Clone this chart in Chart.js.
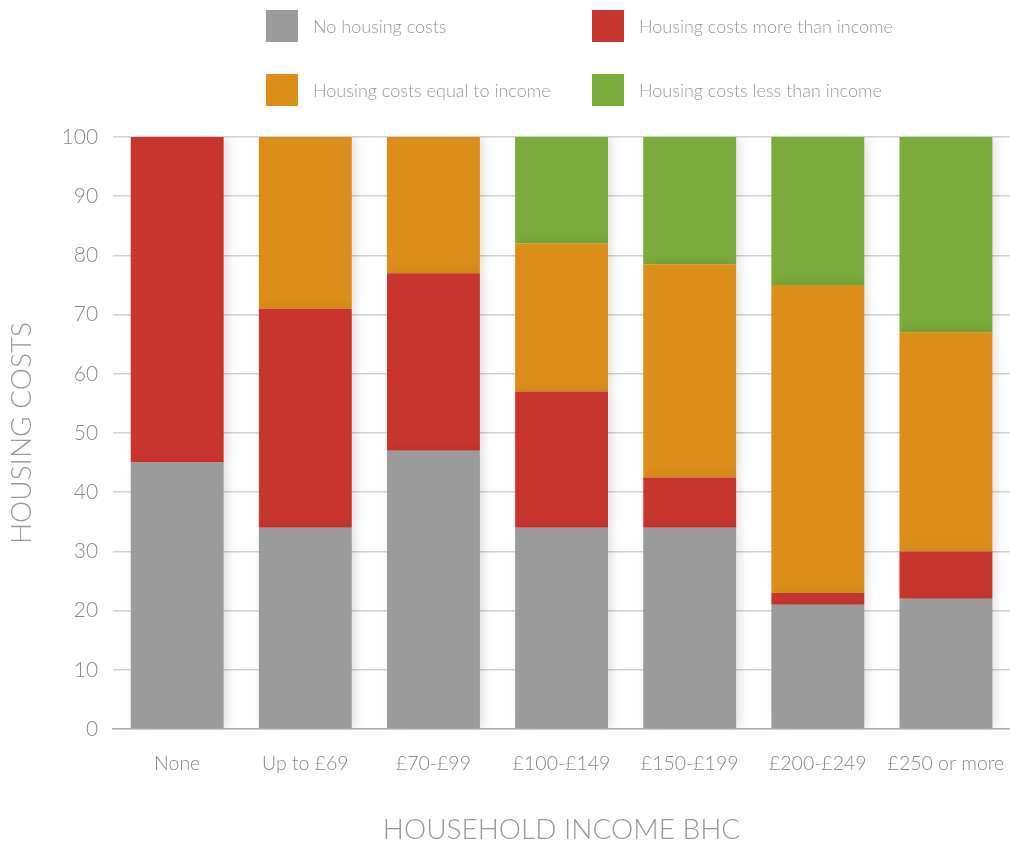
<!DOCTYPE html>
<html lang="en">
<head>
  <meta charset="UTF-8" />
  <title>Housing costs by household income</title>
  <script src="https://cdn.jsdelivr.net/npm/chart.js"></script>
  <style>
    body {
      margin: 0;
      background: #ffffff;
      font-family: 'Lato', sans-serif;
      overflow: hidden;
    }
    .wrap {
      position: relative;
      width: 1010px;
      height: 844px;
    }
    canvas { display: block; }
    /* Legend - 2 x 2 grid at the top */
    .legend {
      position: absolute;
      top: 10px;
      left: 266px;
      display: grid;
      grid-template-columns: 326px 330px;
      row-gap: 32px;
    }
    .legend-item {
      display: flex;
      align-items: center;
      height: 32px;
      font-size: 18px;
      font-weight: 300;
      color: #999;
    }
    .legend-box {
      width: 32px;
      height: 32px;
      margin-right: 15px;
    }
  </style>
</head>
<body>
  <div class="wrap">
    <canvas id="costChart" width="1010" height="844"></canvas>
    <div class="legend" id="legend"></div>
  </div>

  <script>
    // Data
    const categories = ['None', 'Up to £69', '£70-£99', '£100-£149', '£150-£199', '£200-£249', '£250 or more'];
    const noCosts    = [45, 34, 47, 34, 34, 21, 22];
    const moreThan   = [55, 37, 30, 23, 8.5, 2, 8];
    const equalTo    = [0, 29, 23, 25, 36, 52, 37];
    const lessThan   = [0, 0, 0, 18, 21.5, 25, 33];
    const seriesNames = ['No housing costs', 'Housing costs more than income',
                         'Housing costs equal to income', 'Housing costs less than income'];
    const colours = ['#9b9b9b', '#c8352f', '#db8f1a', '#7aab3c'];

    // legend as html
    const legendEl = document.getElementById('legend');
    seriesNames.forEach((name, i) => {
      const item = document.createElement('div');
      item.className = 'legend-item';
      item.innerHTML = '<span class="legend-box" style="background:' + colours[i] + '"></span>' + name;
      legendEl.appendChild(item);
    });

    const seriesData = [noCosts, moreThan, equalTo, lessThan];

    // soft shadow around the bars
    const barShadow = {
      id: 'barShadow',
      beforeDatasetsDraw(chart) {
        const c = chart.ctx;
        c.save();
        c.shadowColor = 'rgba(0,0,0,0.12)';
        c.shadowBlur = 10;
        c.shadowOffsetX = 4;
      },
      afterDatasetsDraw(chart) {
        chart.ctx.restore();
      }
    };

    new Chart(document.getElementById('costChart'), {
      type: 'bar',
      data: {
        labels: categories,
        datasets: seriesData.map((d, i) => ({
          label: seriesNames[i],
          data: d,
          backgroundColor: colours[i],
          borderWidth: 0,
          categoryPercentage: 0.725,
          barPercentage: 1
        }))
      },
      options: {
        responsive: false,
        animation: false,
        layout: { padding: { top: 137, right: 0, left: 5, bottom: -3 } },
        plugins: {
          legend: { display: false },
          tooltip: { enabled: false }
        },
        scales: {
          x: {
            stacked: true,
            // plot runs to the right edge like the original
            afterFit(scale) { scale.paddingRight = 0; },
            grid: { display: false, drawTicks: false },
            border: { display: true, color: '#b0b0b0', width: 1.5 },
            ticks: {
              color: '#888',
              font: { family: 'Lato', size: 19.5, weight: 300 },
              padding: 23
            },
            title: {
              display: true,
              text: 'HOUSEHOLD INCOME BHC',
              color: '#999',
              font: { family: 'Lato', size: 28, weight: 300 },
              padding: { top: 15, bottom: 0 }
            }
          },
          y: {
            stacked: true,
            min: 0,
            max: 100,
            grid: { color: '#d2d2d2', lineWidth: 1.5, drawTicks: false },
            border: { display: false },
            ticks: {
              stepSize: 10,
              color: '#888',
              font: { family: 'Lato', size: 21, weight: 300 },
              padding: 15
            },
            title: {
              display: true,
              text: 'HOUSING COSTS',
              color: '#999',
              font: { family: 'Lato', size: 28, weight: 300 },
              padding: { top: 0, bottom: 8 }
            }
          }
        }
      },
      plugins: [barShadow]
    });
  </script>
</body>
</html>
